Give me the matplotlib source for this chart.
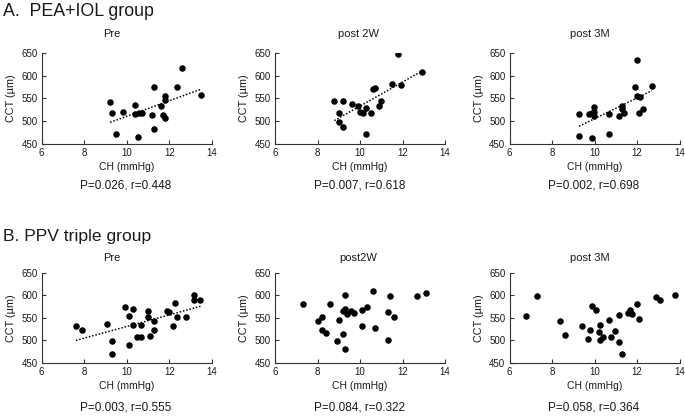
import numpy as np
import matplotlib
matplotlib.use("Agg")
import matplotlib.pyplot as plt

plt.rcParams['font.family'] = ['Liberation Sans', 'DejaVu Sans']

# ---- data (CH in mmHg, CCT in µm) ----
a_pre_ch = [9.22, 9.31, 9.52, 9.81, 10.41, 10.41, 10.59, 10.72, 10.52, 11.2,
            11.3, 11.3, 11.61, 11.7, 11.8, 11.8, 11.8, 12.38, 12.6, 13.48]
a_pre_cct = [543, 517, 471, 520, 536, 515, 517, 518, 465, 514,
             575, 482, 534, 514, 556, 547, 506, 575, 618, 557]

a_2w_ch = [8.79, 9.2, 9.0, 9.0, 9.2, 9.6, 9.9, 9.99, 10.12, 10.3,
           10.3, 10.51, 10.6, 10.7, 10.89, 11.0, 11.5, 11.8, 11.91, 12.9]
a_2w_cct = [545, 545, 518, 499, 486, 537, 533, 520, 517, 528,
            471, 517, 571, 574, 533, 544, 582, 648, 580, 608]

a_3m_ch = [9.27, 9.27, 9.75, 9.88, 9.97, 9.97, 9.97, 9.86, 10.67, 10.67,
           11.17, 11.3, 11.3, 11.39, 11.9, 11.98, 11.99, 12.12, 12.09, 12.29, 12.7]
a_3m_cct = [516, 468, 516, 517, 531, 520, 512, 462, 515, 471,
            512, 533, 527, 517, 575, 635, 555, 554, 519, 526, 578]

b_pre_ch = [7.61, 7.89, 9.09, 9.3, 9.3, 9.91, 10.1, 10.28, 10.28, 10.1,
            10.48, 10.67, 10.67, 10.98, 10.98, 11.08, 11.28, 11.28, 11.88, 12.0,
            12.17, 12.28, 12.39, 12.77, 13.17, 13.17, 13.47]
b_pre_cct = [532, 523, 536, 499, 469, 573, 554, 570, 534, 490,
             508, 508, 534, 565, 551, 510, 542, 523, 566, 564,
             532, 582, 551, 551, 601, 590, 590]

b_2w_ch = [7.31, 8.02, 8.22, 8.2, 8.41, 8.61, 8.91, 9.0, 9.2, 9.2,
           9.3, 9.31, 9.31, 9.41, 9.59, 9.7, 10.11, 10.11, 10.31, 10.59,
           10.7, 11.3, 11.3, 11.41, 11.61, 12.69, 13.09]
b_2w_cct = [581, 542, 551, 524, 517, 581, 499, 545, 514, 566,
            570, 601, 480, 558, 565, 560, 567, 532, 573, 610,
            527, 562, 501, 599, 551, 598, 606]

b_3m_ch = [6.78, 7.29, 8.38, 8.59, 9.39, 9.68, 9.78, 9.87, 10.09, 10.19,
           10.28, 10.28, 10.39, 10.69, 10.78, 10.98, 11.17, 11.17, 11.28, 11.58,
           11.69, 11.69, 11.78, 11.99, 12.08, 12.88, 13.08, 13.77]
b_3m_cct = [554, 598, 542, 512, 532, 504, 524, 576, 567, 519,
            535, 501, 507, 545, 507, 521, 556, 496, 471, 560,
            568, 563, 558, 580, 548, 596, 590, 601]

subtitles_a = ["Pre", "post 2W", "post 3M"]
subtitles_b = ["Pre", "post2W", "post 3M"]
stats_a = ["P=0.026, r=0.448", "P=0.007, r=0.618", "P=0.002, r=0.698"]
stats_b = ["P=0.003, r=0.555", "P=0.084, r=0.322", "P=0.058, r=0.364"]
x_ticks = [6, 8, 10, 12, 14]
y_ticks = [450, 500, 550, 600, 650]

W, H = 685, 418
fig = plt.figure(figsize=(W / 100, H / 100), dpi=100)

def px(x, y):
    return x / W, 1 - y / H

TXT = '#1a1a1a'

def make_ax(left, top, bottom, width, ch, cct, trend):
    ax = fig.add_axes([left / W, 1 - bottom / H, width / W, (bottom - top) / H])
    ax.scatter(ch, cct, s=22, color='black', zorder=3, linewidths=0)
    if trend:
        k, b = np.polyfit(ch, cct, 1)
        xs = np.array([min(ch), max(ch)])
        ax.plot(xs, k * xs + b, color='black', linestyle=(0, (1, 1.2)), linewidth=1.1)
    ax.set_xlim(6, 14)
    ax.set_ylim(450, 650)
    ax.set_xticks(x_ticks)
    ax.set_yticks(y_ticks)
    for s in ['top', 'right']:
        ax.spines[s].set_visible(False)
    for s in ['left', 'bottom']:
        ax.spines[s].set_color('#333333')
        ax.spines[s].set_linewidth(0.8)
    ax.tick_params(direction='in', length=3, width=0.8, color='#333333',
                   labelsize=7, labelcolor=TXT, pad=3)
    ax.set_xlabel("CH (mmHg)", fontsize=7.5, color=TXT, labelpad=3)
    ax.set_ylabel("CCT (µm)", fontsize=7.8, color=TXT, labelpad=4)
    ax.patch.set_alpha(0)
    return ax

lefts = [41.7, 275, 509.5]
width = 170
data_a = [(a_pre_ch, a_pre_cct), (a_2w_ch, a_2w_cct), (a_3m_ch, a_3m_cct)]
data_b = [(b_pre_ch, b_pre_cct), (b_2w_ch, b_2w_cct), (b_3m_ch, b_3m_cct)]

for i in range(3):
    make_ax(lefts[i], 53.3, 143.7, width, data_a[i][0], data_a[i][1], True)
    make_ax(lefts[i], 272.7, 363, width, data_b[i][0], data_b[i][1], i == 0)

fig.text(*px(3, 11), "A.  PEA+IOL group", fontsize=12.8, color=TXT, va='center', ha='left')
fig.text(*px(3, 237), "B. PPV triple group", fontsize=12.6, color=TXT, va='center', ha='left')

sub_x_a = [112, 359, 590]
sub_x_b = [112, 358, 590]
stat_x = [126, 360, 594]
for i in range(3):
    fig.text(*px(sub_x_a[i], 34), subtitles_a[i], fontsize=8, color=TXT, ha='center', va='center')
    fig.text(*px(sub_x_b[i], 258), subtitles_b[i], fontsize=8, color=TXT, ha='center', va='center')
    fig.text(*px(stat_x[i], 186), stats_a[i], fontsize=8.5, color=TXT, ha='center', va='center')
    fig.text(*px(stat_x[i], 408), stats_b[i], fontsize=8.5, color=TXT, ha='center', va='center')

fig.savefig("out.png", dpi=100, facecolor='white')
